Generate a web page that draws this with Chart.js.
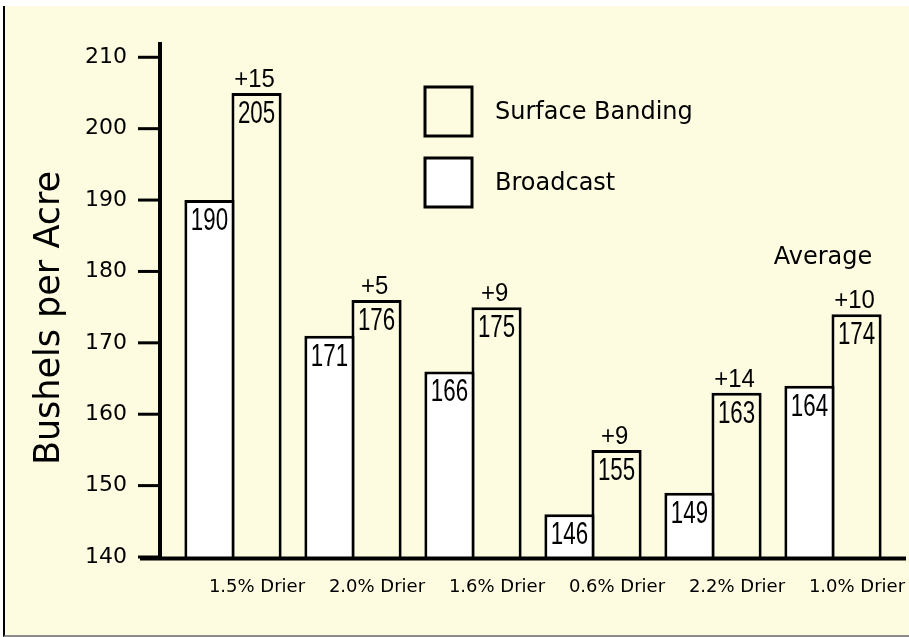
<!DOCTYPE html>
<html>
<head>
<meta charset="utf-8">
<script src="https://cdn.jsdelivr.net/npm/chart.js@4.4.1/dist/chart.umd.min.js"></script>
<style>
  html, body { margin: 0; padding: 0; background: #fff; }
  #frame {
    position: absolute; left: 3px; top: 6px; width: 904px; height: 629px;
    background: #fdfce1; border-left: 2px solid #000; border-bottom: 2px solid #8c8c8c;
  }
  #mainCanvas { position: absolute; left: 0; top: 0; }
</style>
</head>
<body>
<div id="frame"></div>
<canvas id="mainCanvas" width="909" height="637"></canvas>
<script>
const categories = ["1.5% Drier", "2.0% Drier", "1.6% Drier", "0.6% Drier", "2.2% Drier", "1.0% Drier"];
const broadcast = [190, 171, 166, 146, 149, 164];
const surfaceBanding = [205, 176, 175, 155, 163, 174];
const seriesNames = ["Broadcast", "Surface Banding"];
const yTitle = "Bushels per Acre";
const averageNote = "Average";
const averageIndex = 5;

const BG = "#fdfce1";
const SANS = "'DejaVu Sans', sans-serif";
const NARROW = "'Liberation Sans', Arial, sans-serif";

/**
 * Draws text squeezed horizontally, like the condensed face in the original
 */
function squeezedText(ctx, text, x, y, squeeze) {
  ctx.save();
  ctx.translate(x, y);
  ctx.scale(squeeze, 1);
  ctx.fillText(text, 0, 0);
  ctx.restore();
}

/**
 * Axis lines, value labels, differences, legend and titles
 */
const annotate = {
  id: "annotate",
  afterDraw(chart) {
    const { ctx, chartArea: area, scales: { x, y } } = chart;
    const low = chart.getDatasetMeta(0).data;
    const high = chart.getDatasetMeta(1).data;

    ctx.save();
    ctx.fillStyle = "#000";
    ctx.strokeStyle = "#000";

    // axes
    const axisX = area.left - 13;
    ctx.lineWidth = 4;
    ctx.beginPath();
    ctx.moveTo(axisX, area.top - 1);
    ctx.lineTo(axisX, area.bottom + 3);
    ctx.moveTo(area.left - 33, area.bottom + 1.5);
    ctx.lineTo(area.right + 13, area.bottom + 1.5);
    ctx.stroke();

    ctx.lineWidth = 3;
    y.ticks.forEach(t => {
      const py = y.getPixelForValue(t.value);
      ctx.beginPath();
      ctx.moveTo(axisX - 22, py);
      ctx.lineTo(axisX, py);
      ctx.stroke();
    });

    // values inside bars and gains above them
    ctx.textAlign = "center";
    ctx.textBaseline = "alphabetic";
    ctx.font = `31px ${NARROW}`;
    [broadcast, surfaceBanding].forEach((vals, d) => {
      const bars = d == 0 ? low : high;
      vals.forEach((v, i) => squeezedText(ctx, String(v), bars[i].x, bars[i].y + 30, 0.72));
    });

    ctx.font = `26px ${NARROW}`;
    surfaceBanding.forEach((v, i) => {
      squeezedText(ctx, "+" + (v - broadcast[i]), high[i].x - 2, high[i].y - 6, 0.92);
    });

    ctx.font = `24px ${SANS}`;
    ctx.fillText(averageNote, x.getPixelForValue(averageIndex) - 10, high[averageIndex].y - 50);

    // legend, Surface Banding on top
    const fills = ["#ffffff", BG];
    ctx.textAlign = "left";
    ctx.textBaseline = "middle";
    ctx.lineWidth = 3;
    [1, 0].forEach((d, row) => {
      const top = 87 + row * 71;
      ctx.fillStyle = fills[d];
      ctx.fillRect(425, top, 47, 49);
      ctx.strokeRect(425, top, 47, 49);
      ctx.fillStyle = "#000";
      ctx.fillText(seriesNames[d], 495, top + 26);
    });

    // y title
    ctx.font = `35px ${SANS}`;
    ctx.textAlign = "center";
    ctx.translate(50, (area.top + area.bottom) / 2 + 18);
    ctx.rotate(-Math.PI / 2);
    ctx.fillText(yTitle, 0, 0);

    ctx.restore();
  },
};

const chart = new Chart(document.getElementById("mainCanvas"), {
  type: "bar",
  data: {
    labels: categories,
    datasets: [
      { label: seriesNames[0], data: broadcast, backgroundColor: "#ffffff", borderColor: "#000", borderWidth: 3 },
      { label: seriesNames[1], data: surfaceBanding, backgroundColor: BG, borderColor: "#000", borderWidth: 3 },
    ],
  },
  options: {
    responsive: false,
    animation: false,
    datasets: { bar: { categoryPercentage: 0.785, barPercentage: 1.065 } },
    layout: { padding: { top: 43, right: 16, left: 0, bottom: 0 } },
    plugins: { legend: { display: false }, tooltip: { enabled: false } },
    scales: {
      x: {
        grid: { display: false, drawTicks: false },
        border: { display: false },
        ticks: {
          color: "#000",
          font: { family: SANS, size: 18 },
          labelOffset: 24,
          padding: 20,
          maxRotation: 0,
          autoSkip: false,
        },
        afterFit(scale) {
          scale.height = 80;
          scale.paddingLeft = 0;
          scale.paddingRight = 0;
        },
      },
      y: {
        min: 140,
        max: 212,
        grid: { display: false, drawTicks: false },
        border: { display: false },
        ticks: {
          stepSize: 10,
          includeBounds: false,
          color: "#000",
          font: { family: SANS, size: 22 },
          padding: 46,
        },
        afterFit(scale) {
          scale.width = 173;
          scale.paddingTop = 0;
          scale.paddingBottom = 0;
        },
      },
    },
  },
  plugins: [annotate],
});
</script>
</body>
</html>
